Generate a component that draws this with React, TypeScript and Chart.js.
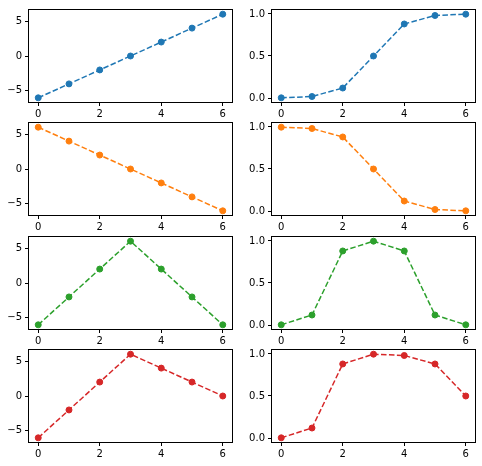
import React, { useEffect, useRef } from 'react';
import { Chart, registerables } from 'chart.js';

Chart.register(...registerables);

const X = [0, 1, 2, 3, 4, 5, 6];
const linearUp = [-6, -4, -2, 0, 2, 4, 6];
const linearDown = [6, 4, 2, 0, -2, -4, -6];
const peak = [-6, -2, 2, 6, 2, -2, -6];
const skewPeak = [-6, -2, 2, 6, 4, 2, 0];
const sigUp = [0.0025, 0.018, 0.119, 0.5, 0.881, 0.982, 0.9975];
const sigDown = [0.9975, 0.982, 0.881, 0.5, 0.119, 0.018, 0.0025];
const sigPeak = [0.0025, 0.119, 0.881, 0.9975, 0.881, 0.119, 0.0025];
const sigSkew = [0.0025, 0.119, 0.881, 0.9975, 0.982, 0.881, 0.5];

const xTicks = [0, 2, 4, 6];
const leftYTicks = [-5, 0, 5];
const rightYTicks = [0, 0.5, 1.0];

const colors = ['#1f77b4', '#ff7f0e', '#2ca02c', '#d62728'];

const LP = 29, TP = 6, RP = 6, BP = 19;
const W = 203, H = 95;
const colLeft = [29, 272];
const rowTop = [7, 120, 234, 347];

const boxPlugin = {
  id: 'boxSpines',
  afterDraw(chart: any) {
    const { ctx, chartArea: a } = chart;
    ctx.save();
    ctx.strokeStyle = '#000';
    ctx.lineWidth = 1;
    ctx.strokeRect(a.left - 0.5, a.top - 0.5, a.right - a.left + 1, a.bottom - a.top + 1);
    ctx.restore();
  },
};

const fmtLeft = (v: number) => (v < 0 ? '\u2212' + Math.abs(v) : String(v));
const fmtRight = (v: number) => v.toFixed(1);

type SubProps = {
  left: number;
  top: number;
  values: number[];
  color: string;
  yTicks: number[];
  yMin: number;
  yMax: number;
  fmt: (v: number) => string;
};

function Subplot({ left, top, values, color, yTicks, yMin, yMax, fmt }: SubProps) {
  const ref = useRef<HTMLCanvasElement>(null);
  useEffect(() => {
    if (!ref.current) return;
    const font = { family: 'DejaVu Sans', size: 10 };
    const chart = new Chart(ref.current, {
      type: 'line',
      data: {
        datasets: [
          {
            data: X.map((x, i) => ({ x, y: values[i] })),
            borderColor: color,
            backgroundColor: color,
            borderWidth: 1.5,
            borderDash: [5.55, 2.4],
            pointRadius: 3,
            pointBorderWidth: 1,
            pointBorderColor: color,
            pointBackgroundColor: color,
            tension: 0,
            fill: false,
            clip: false as any,
          },
        ],
      },
      options: {
        responsive: false,
        animation: false,
        devicePixelRatio: 1,
        layout: { padding: { top: TP, right: RP, left: 0, bottom: 0 }, autoPadding: false },
        plugins: { legend: { display: false }, tooltip: { enabled: false } },
        scales: {
          x: {
            type: 'linear',
            min: -0.3,
            max: 6.3,
            afterBuildTicks: (s: any) => {
              s.ticks = xTicks.map((v) => ({ value: v }));
            },
            afterFit: (s: any) => {
              s.height = BP;
            },
            grid: { display: true, drawOnChartArea: false, drawTicks: true, tickLength: 4, color: '#000', lineWidth: 1 },
            border: { display: false },
            ticks: { font, color: '#000', padding: 2, maxRotation: 0, callback: (v: any) => fmtLeft(Number(v)) },
          },
          y: {
            type: 'linear',
            min: yMin,
            max: yMax,
            afterBuildTicks: (s: any) => {
              s.ticks = yTicks.map((v) => ({ value: v }));
            },
            afterFit: (s: any) => {
              s.width = LP;
            },
            grid: { display: true, drawOnChartArea: false, drawTicks: true, tickLength: 4, color: '#000', lineWidth: 1 },
            border: { display: false },
            ticks: { font, color: '#000', padding: 3, callback: (v: any) => fmt(Number(v)) },
          },
        },
      },
      plugins: [boxPlugin],
    } as any);
    return () => chart.destroy();
  }, [values, color, yTicks, yMin, yMax, fmt]);
  return (
    <canvas
      ref={ref}
      width={LP + W + RP}
      height={TP + H + BP}
      style={{ position: 'absolute', left: left - LP, top: top - TP, width: LP + W + RP, height: TP + H + BP }}
    />
  );
}

const leftSeries = [linearUp, linearDown, peak, skewPeak];
const rightSeries = [sigUp, sigDown, sigPeak, sigSkew];

export default function App() {
  return (
    <div style={{ position: 'absolute', left: 0, top: 0, width: 482, height: 466, background: '#fff' }}>
      {rowTop.map((t, r) => (
        <React.Fragment key={r}>
          <Subplot left={colLeft[0]} top={t} values={leftSeries[r]} color={colors[r]} yTicks={leftYTicks} yMin={-6.6} yMax={6.6} fmt={fmtLeft} />
          <Subplot left={colLeft[1]} top={t} values={rightSeries[r]} color={colors[r]} yTicks={rightYTicks} yMin={-0.0473} yMax={1.0473} fmt={fmtRight} />
        </React.Fragment>
      ))}
    </div>
  );
}
